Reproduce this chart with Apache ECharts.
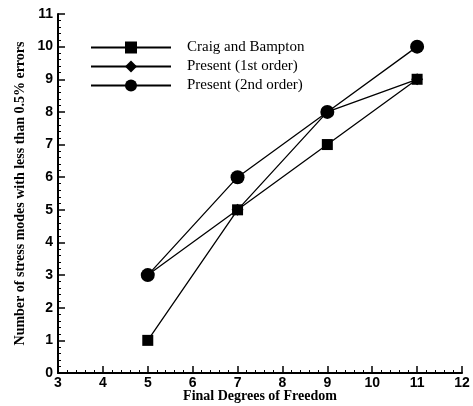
<!DOCTYPE html>
<html>
<head>
<meta charset="utf-8">
<script src="https://cdn.jsdelivr.net/npm/echarts@6/dist/echarts.min.js"></script>
<style>
  html, body { margin: 0; padding: 0; background: #fff; }
  #chart { width: 473px; height: 406px; }
</style>
</head>
<body>
<div id="chart"></div>
<script>
// degrees of freedom on the x axis
const dof = [5, 7, 9, 11];
const craigBampton = [1, 5, 7, 9];
const present1st = [3, 5, 8, 9];
const present2nd = [3, 6, 8, 10];

const seriesNames = ['Craig and Bampton', 'Present (1st order)', 'Present (2nd order)'];

function pairs(ys) {
    return dof.map((x, i) => [x, ys[i]]);
}

const chart = echarts.init(document.getElementById('chart'));

const axisCommon = {
    axisLine: {lineStyle: {color: '#000', width: 2}},
    axisTick: {inside: true, length: 7, lineStyle: {color: '#000', width: 1.5}},
    minorTick: {show: true, splitNumber: 5, length: 3, lineStyle: {color: '#000', width: 1}},
    splitLine: {show: false},
    axisLabel: {color: '#000', fontFamily: 'Liberation Sans', fontWeight: 'bold', fontSize: 14},
    nameTextStyle: {color: '#000', fontFamily: 'Liberation Serif', fontWeight: 'bold', fontSize: 14}
};

function lineSeries(name, ys, symbol, size) {
    return {
        name: name,
        type: 'line',
        data: pairs(ys),
        symbol: symbol,
        symbolSize: size,
        showAllSymbol: true,
        lineStyle: {color: '#000', width: 1.3},
        itemStyle: {color: '#000'},
        emphasis: {disabled: true}
    };
}

chart.setOption({
    animation: false,
    grid: {left: 58, right: 11, top: 14, bottom: 33, outerBoundsMode: 'none'},
    legend: {
        orient: 'vertical',
        left: 85,
        top: 35,
        itemWidth: 80,
        itemHeight: 15,
        itemGap: 4,
        data: seriesNames,
        textStyle: {color: '#000', fontFamily: 'Liberation Serif', fontSize: 15, padding: [0, 0, 0, 11]}
    },
    xAxis: Object.assign({}, axisCommon, {
        type: 'value',
        min: 3, max: 12, interval: 1,
        name: 'Final Degrees of Freedom',
        nameLocation: 'middle',
        nameGap: 16,
        nameMoveOverlap: false,
        axisLabel: Object.assign({}, axisCommon.axisLabel, {margin: 3})
    }),
    yAxis: Object.assign({}, axisCommon, {
        type: 'value',
        min: 0, max: 11, interval: 1,
        name: 'Number of stress modes with less than 0.5% errors',
        nameLocation: 'middle',
        nameGap: 31,
        nameMoveOverlap: false,
        axisLabel: Object.assign({}, axisCommon.axisLabel, {margin: 5})
    }),
    series: [
        lineSeries(seriesNames[0], craigBampton, 'rect', 11),
        lineSeries(seriesNames[1], present1st, 'diamond', 12),
        lineSeries(seriesNames[2], present2nd, 'circle', 14)
    ]
});
</script>
</body>
</html>
